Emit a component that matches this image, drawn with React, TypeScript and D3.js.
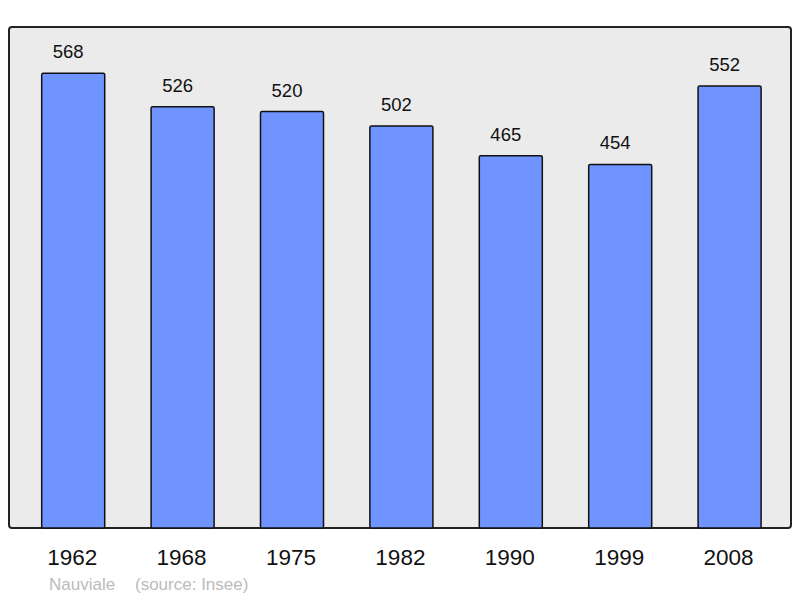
import * as d3 from "d3";

const years = ["1962", "1968", "1975", "1982", "1990", "1999", "2008"];
const population = [568, 526, 520, 502, 465, 454, 552];
const credit = "Nauviale";
const source = "(source: Insee)";

const W = 800;
const H = 598;

export default function App() {
  const x = d3
    .scaleBand<string>()
    .domain(years)
    .range([41.7, 761.1])
    .paddingInner(0.424)
    .paddingOuter(0);
  const y = d3.scaleLinear().domain([0, 625]).range([528, 27.5]);

  return (
    <svg
      width={W}
      height={H}
      style={{ position: "absolute", left: 0, top: 0 }}
      fontFamily="'Liberation Sans', Arial, sans-serif"
    >
      <rect x={0} y={0} width={W} height={H} fill="#ffffff" />
      <rect
        x={9}
        y={27}
        width={782}
        height={501}
        rx={3}
        ry={3}
        fill="#ebebeb"
        stroke="#222"
        strokeWidth={2}
      />
      {years.map((yr, i) => {
        const bx = x(yr) ?? 0;
        const v = population[i];
        return (
          <g key={yr}>
            <rect
              x={bx}
              y={y(v)}
              width={x.bandwidth()}
              height={y(0) - y(v)}
              rx={1.5}
              fill="#7094ff"
              stroke="#111"
              strokeWidth={1.5}
            />
            <text
              x={bx + x.bandwidth() / 2 - 5}
              y={y(v) - 15}
              textAnchor="middle"
              fontSize={18.5}
              fill="#111"
            >
              {v}
            </text>
            <text
              x={bx + x.bandwidth() / 2 - 1}
              y={565}
              textAnchor="middle"
              fontSize={22.5}
              fill="#111"
            >
              {yr}
            </text>
          </g>
        );
      })}
      <text x={49} y={590} fontSize={17} fill="#bbbbbb">
        {credit}
      </text>
      <text x={135} y={590} fontSize={17} fill="#bbbbbb">
        {source}
      </text>
    </svg>
  );
}
